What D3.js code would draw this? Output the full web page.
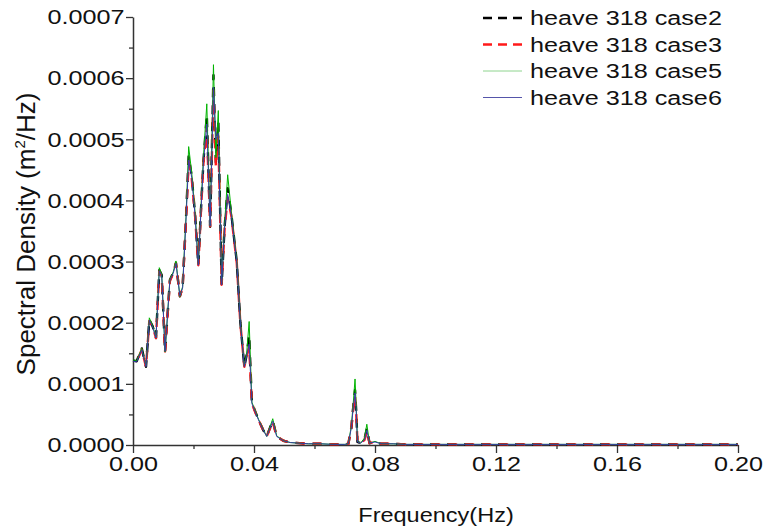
<!DOCTYPE html>
<html>
<head>
<meta charset="utf-8">
<script src="https://cdn.jsdelivr.net/npm/d3@7"></script>
<style>
  body { margin: 0; background: #fff; }
  text { font-family: "Liberation Sans", Arial, sans-serif; fill: #111; }
</style>
</head>
<body>
<svg id="chart" width="765" height="531"></svg>
<script>
// spectral density of heave, four cases

var freq = [0.0000, 0.0012, 0.0029, 0.0043, 0.0054, 0.0065, 0.0076, 0.0087, 0.0095, 0.0106,
            0.0122, 0.0133, 0.0142, 0.0155, 0.0164, 0.0175, 0.0184, 0.0194, 0.0205, 0.0216,
            0.0225, 0.0233, 0.0244, 0.0255, 0.0266, 0.0274, 0.0282, 0.0293, 0.0303, 0.0313,
            0.0325, 0.0343, 0.0355, 0.0368, 0.0376, 0.0384, 0.0393, 0.0404, 0.0415, 0.0430,
            0.0442, 0.0462, 0.0475, 0.0497, 0.0520, 0.0550, 0.0580, 0.0620, 0.0660, 0.0700,
            0.0712, 0.0722, 0.0728, 0.0734, 0.0738, 0.0742, 0.0752, 0.0765, 0.0773, 0.0782,
            0.0800, 0.0820, 0.0860, 0.0900, 0.1000, 0.1100, 0.1200, 0.1400, 0.1600, 0.1800,
            0.2000];

var case2 = [0.000138, 0.000137, 0.000158, 0.000128, 0.000205, 0.000194, 0.000175, 0.000286, 0.000278, 0.000152,
             0.000270, 0.000282, 0.000298, 0.000243, 0.000258, 0.000368, 0.000472, 0.000440, 0.000378, 0.000294,
             0.000388, 0.000465, 0.000540, 0.000357, 0.000605, 0.000462, 0.000530, 0.000262, 0.000358, 0.000420,
             0.000378, 0.000300, 0.000200, 0.000128, 0.000148, 0.000180, 0.000069, 0.000055, 0.000041, 0.000025,
             0.000014, 0.000040, 0.000014, 0.000007, 0.000004, 0.000003, 0.000002, 0.000002, 0.000001, 0.000001,
             0.000002, 0.000028, 0.000062, 0.000090, 0.000055, 0.000005, 0.000003, 0.000009, 0.000027, 0.000003,
             0.000005, 0.000002, 0.000002, 0.000001, 0.000001, 0.000001, 0.000001, 0.000001, 0.000001, 0.000001,
             0.000001];

var case3 = [0.000137, 0.000136, 0.000156, 0.000128, 0.000203, 0.000193, 0.000175, 0.000284, 0.000277, 0.000153,
             0.000268, 0.000281, 0.000297, 0.000244, 0.000257, 0.000366, 0.000462, 0.000436, 0.000376, 0.000294,
             0.000386, 0.000462, 0.000520, 0.000358, 0.000580, 0.000455, 0.000505, 0.000262, 0.000355, 0.000405,
             0.000375, 0.000298, 0.000198, 0.000128, 0.000145, 0.000160, 0.000068, 0.000054, 0.000041, 0.000025,
             0.000014, 0.000038, 0.000014, 0.000007, 0.000004, 0.000003, 0.000002, 0.000002, 0.000001, 0.000001,
             0.000002, 0.000030, 0.000060, 0.000080, 0.000052, 0.000005, 0.000003, 0.000008, 0.000022, 0.000003,
             0.000005, 0.000002, 0.000002, 0.000001, 0.000001, 0.000001, 0.000001, 0.000001, 0.000001, 0.000001,
             0.000001];

var case5 = [0.000139, 0.000138, 0.000158, 0.000129, 0.000208, 0.000195, 0.000176, 0.000290, 0.000279, 0.000152,
             0.000271, 0.000283, 0.000301, 0.000243, 0.000259, 0.000372, 0.000488, 0.000446, 0.000382, 0.000295,
             0.000392, 0.000472, 0.000558, 0.000358, 0.000622, 0.000470, 0.000547, 0.000263, 0.000362, 0.000442,
             0.000382, 0.000302, 0.000202, 0.000129, 0.000152, 0.000202, 0.000070, 0.000056, 0.000042, 0.000026,
             0.000014, 0.000043, 0.000015, 0.000007, 0.000004, 0.000003, 0.000002, 0.000002, 0.000001, 0.000001,
             0.000002, 0.000032, 0.000068, 0.000108, 0.000062, 0.000006, 0.000003, 0.000011, 0.000034, 0.000003,
             0.000006, 0.000002, 0.000002, 0.000001, 0.000001, 0.000001, 0.000001, 0.000001, 0.000001, 0.000001,
             0.000001];

var case6 = [0.000137, 0.000136, 0.000156, 0.000128, 0.000204, 0.000193, 0.000175, 0.000285, 0.000277, 0.000153,
             0.000269, 0.000281, 0.000297, 0.000244, 0.000257, 0.000366, 0.000466, 0.000438, 0.000376, 0.000294,
             0.000386, 0.000463, 0.000525, 0.000358, 0.000585, 0.000500, 0.000510, 0.000262, 0.000356, 0.000410,
             0.000376, 0.000299, 0.000199, 0.000128, 0.000146, 0.000165, 0.000068, 0.000054, 0.000041, 0.000025,
             0.000014, 0.000039, 0.000014, 0.000007, 0.000004, 0.000003, 0.000002, 0.000002, 0.000001, 0.000001,
             0.000002, 0.000029, 0.000061, 0.000085, 0.000054, 0.000005, 0.000003, 0.000008, 0.000024, 0.000003,
             0.000005, 0.000002, 0.000002, 0.000001, 0.000001, 0.000001, 0.000001, 0.000001, 0.000001, 0.000001,
             0.000001];

var seriesNames = ["heave 318 case2", "heave 318 case3", "heave 318 case5", "heave 318 case6"];
var xTicks = [0, 0.04, 0.08, 0.12, 0.16, 0.20];
var yTicks = [0, 0.0001, 0.0002, 0.0003, 0.0004, 0.0005, 0.0006, 0.0007];


var stretch = "scale(1.2,1)";

var svg = d3.select("#chart");
var plotLeft = 133, plotRight = 738, plotTop = 17, plotBottom = 445;

var x = d3.scaleLinear().domain([0, 0.2]).range([plotLeft, plotRight]);
var y = d3.scaleLinear().domain([0, 0.0007]).range([plotBottom, plotTop]);


function drawAxes()
{
  // minor ticks first, so the major ones sit on top
  svg.append("g")
     .attr("transform", "translate(0," + plotBottom + ")")
     .call(d3.axisBottom(x).tickValues(d3.range(0.02, 0.2, 0.04)).tickSize(4).tickFormat(""))
     .call(function(g) { g.select(".domain").remove(); });

  svg.append("g")
     .attr("transform", "translate(" + plotLeft + ",0)")
     .call(d3.axisLeft(y).tickValues(d3.range(0.00005, 0.0007, 0.0001)).tickSize(4).tickFormat(""))
     .call(function(g) { g.select(".domain").remove(); });

  var xg = svg.append("g")
     .attr("class", "xAxis")
     .attr("transform", "translate(0," + plotBottom + ")")
     .call(d3.axisBottom(x).tickValues(xTicks).tickSize(8).tickSizeOuter(0).tickPadding(3).tickFormat(d3.format(".2f")));

  var yg = svg.append("g")
     .attr("class", "yAxis")
     .attr("transform", "translate(" + plotLeft + ",0)")
     .call(d3.axisLeft(y).tickValues(yTicks).tickSize(7).tickSizeOuter(0).tickPadding(0).tickFormat(d3.format(".4f")));

  svg.selectAll(".tick line").attr("stroke", "#333").attr("stroke-width", 1.3);
  svg.selectAll(".domain").attr("stroke", "#333").attr("stroke-width", 1.5);

  xg.selectAll("text").attr("font-size", 21).attr("fill", "#111").attr("transform", stretch);
  yg.selectAll("text").attr("font-size", 21).attr("fill", "#111").attr("transform", stretch);

  svg.append("text")
     .attr("transform", "translate(436,522) scale(1.12,1)")
     .attr("text-anchor", "middle")
     .attr("font-size", 21)
     .text("Frequency(Hz)");

  var yt = svg.append("text")
     .attr("transform", "translate(35,234) rotate(-90)")
     .attr("text-anchor", "middle")
     .attr("font-size", 26);
  yt.append("tspan").text("Spectral Density (m");
  yt.append("tspan").attr("font-size", 15).attr("dy", -10).text("2");
  yt.append("tspan").attr("dy", 10).text("/Hz)");
}


function drawLines()
{
  var line = d3.line()
    .x(function(d) { return x(d[0]); })
    .y(function(d) { return y(d[1]); });

  var styles = [
    {data: case2, color: "#000000", width: 2.4, dash: "9,8", offset: 0},
    {data: case3, color: "#ff1a1a", width: 2.4, dash: "9,8", offset: 9},
    {data: case5, color: "#00b400", width: 1, dash: null, offset: 0},
    {data: case6, color: "#3a3aa8", width: 1, dash: null, offset: 0}
  ];

  styles.forEach(function(s) {
    var pts = freq.map(function(f, i) { return [f, s.data[i]]; });
    svg.append("path")
       .datum(pts)
       .attr("fill", "none")
       .attr("stroke", s.color)
       .attr("stroke-width", s.width)
       .attr("stroke-linejoin", "round")
       .attr("stroke-dasharray", s.dash)
       .attr("stroke-dashoffset", s.offset)
       .attr("d", line);
  });

  return styles;
}


function drawLegend(styles)
{
  var rowY = [18, 44.5, 71, 97.5];
  var g = svg.append("g").attr("class", "legend");

  styles.forEach(function(s, i) {
    g.append("line")
     .attr("x1", 483).attr("x2", 522)
     .attr("y1", rowY[i]).attr("y2", rowY[i])
     .attr("stroke", i == 2 ? "#8ed48e" : (i == 3 ? "#5555aa" : s.color))
     .attr("stroke-width", s.width)
     .attr("stroke-dasharray", s.dash ? "9,6" : null);

    g.append("text")
     .attr("transform", "translate(530," + (rowY[i] + 7) + ") " + stretch)
     .attr("font-size", 21)
     .text(seriesNames[i]);
  });
}


drawAxes();
var styles = drawLines();
drawLegend(styles);
</script>
</body>
</html>
